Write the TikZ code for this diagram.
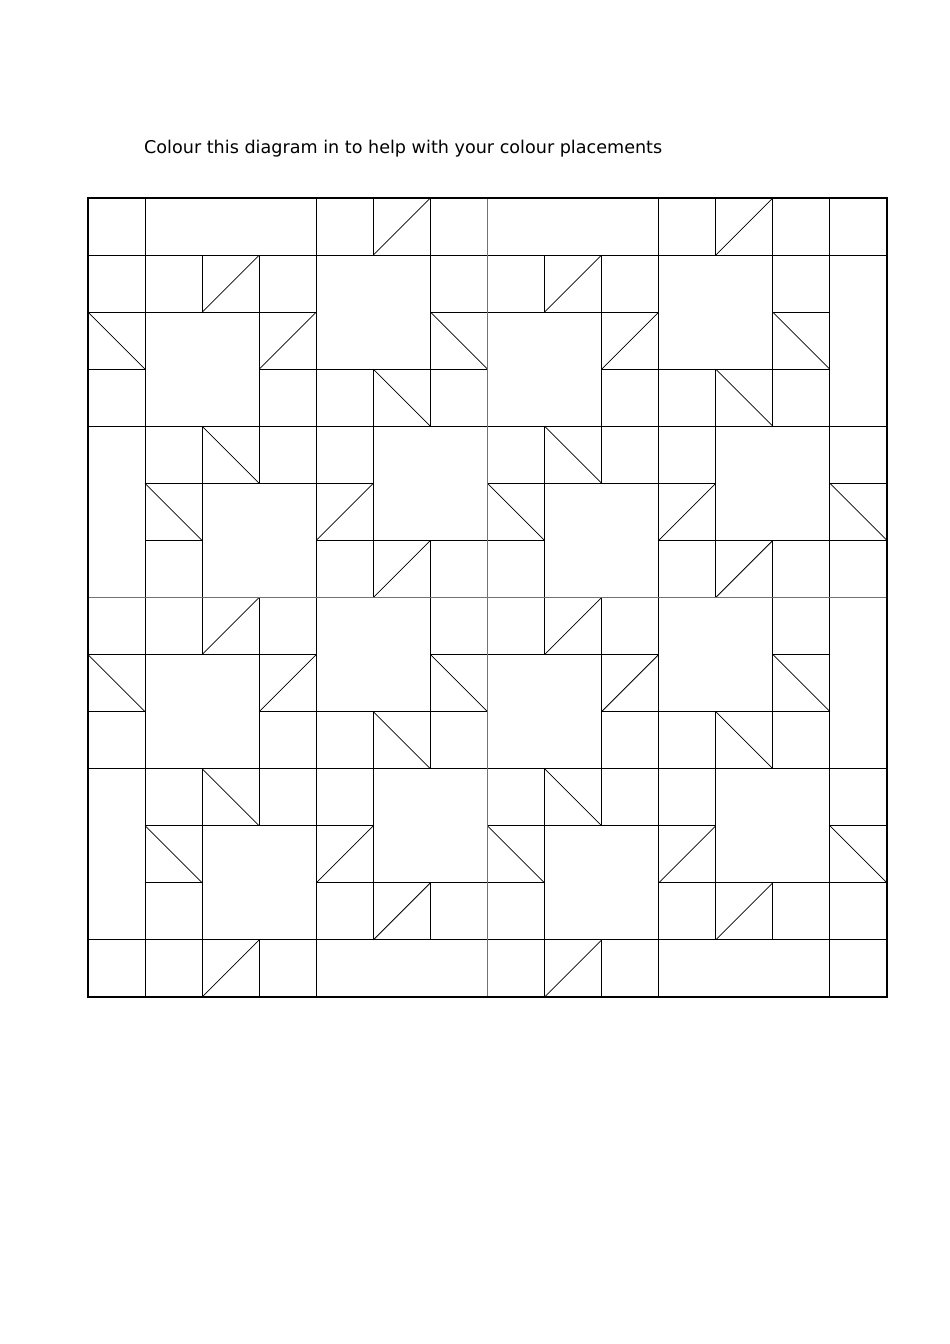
\documentclass[tikz,border=0pt]{standalone}
\usepackage{fontspec}
\setmainfont{DejaVu Sans}
\definecolor{divgray}{RGB}{115,115,115}
\tikzset{
  pc/.style={draw=black,line width=1.1pt},
  dg/.style={draw=black,line width=0.75pt},
  dv/.style={draw=divgray,line width=1.3pt,line cap=butt}
}
\newcommand\Sq[2]{\draw[pc] (#1,#2) rectangle ++(1,1);}
\newcommand\Bs[2]{\draw[pc] (#1,#2) rectangle ++(1,1);\draw[dg] (#1,#2) -- ++(1,1);}
\newcommand\Fs[2]{\draw[pc] (#1,#2) rectangle ++(1,1);\draw[dg] (#1,#2) ++(0,1) -- ++(1,-1);}
\newcommand\Rt[4]{\draw[pc] (#1,#2) rectangle ++(#3,#4);}
\begin{document}
\begin{tikzpicture}[x=1pt,y=-1pt]
\useasboundingbox[fill=white] (0,0) rectangle (950,1344);
\node[anchor=base west,inner sep=0pt] (title) at (144,153)
  {\resizebox{518pt}{!}{Colour this diagram in to help with your colour placements}};
\begin{scope}[shift={(88pt,-198pt)},x=57.07pt,y=-57.07pt]
  % top border row
  \Sq{0}{0} \Rt{1}{0}{3}{1} \Sq{4}{0} \Fs{5}{0} \Sq{6}{0}
  \Rt{7}{0}{3}{1} \Sq{10}{0} \Fs{11}{0} \Sq{12}{0} \Sq{13}{0}
  % bottom border row
  \Sq{0}{13} \Sq{1}{13} \Fs{2}{13} \Sq{3}{13} \Rt{4}{13}{3}{1}
  \Sq{7}{13} \Fs{8}{13} \Sq{9}{13} \Rt{10}{13}{3}{1} \Sq{13}{13}
  % repeated units
  \foreach \R in {1,7}{
    % border columns
    \Sq{0}{\R}
    \Bs{0}{\R+1}
    \Sq{0}{\R+2}
    \Rt{0}{\R+3}{1}{3}
    \Rt{13}{\R}{1}{3}
    \Sq{13}{\R+3}
    \Bs{13}{\R+4}
    \Sq{13}{\R+5}
    \foreach \C in {1,7}{
      % k0
      \Sq{\C}{\R} \Fs{\C+1}{\R} \Sq{\C+2}{\R} \Rt{\C+3}{\R}{2}{2} \Sq{\C+5}{\R}
      % k1
      \Rt{\C}{\R+1}{2}{2} \Fs{\C+2}{\R+1} \Bs{\C+5}{\R+1}
      % k2
      \Sq{\C+2}{\R+2} \Sq{\C+3}{\R+2} \Bs{\C+4}{\R+2} \Sq{\C+5}{\R+2}
      % k3
      \Sq{\C}{\R+3} \Bs{\C+1}{\R+3} \Sq{\C+2}{\R+3} \Sq{\C+3}{\R+3} \Rt{\C+4}{\R+3}{2}{2}
      % k4
      \Bs{\C}{\R+4} \Rt{\C+1}{\R+4}{2}{2} \Fs{\C+3}{\R+4}
      % k5
      \Sq{\C}{\R+5} \Sq{\C+3}{\R+5} \Fs{\C+4}{\R+5} \Sq{\C+5}{\R+5}
    }
  }
  % quadrant dividers
  \draw[white,line width=1.7pt] (7,0) -- (7,14) (0,7) -- (14,7);
  \draw[dv] (7,0) -- (7,14) (0,7) -- (14,7);
  \draw[pc] (0,0) rectangle (14,14);
\end{scope}
\end{tikzpicture}
\end{document}
